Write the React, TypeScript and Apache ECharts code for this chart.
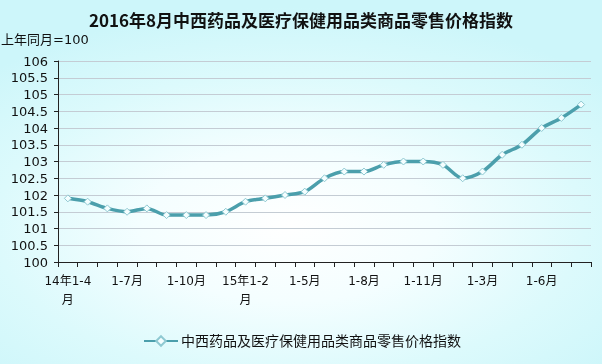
import React, { useEffect, useRef } from "react";
import * as echarts from "echarts";

const titleText = "2016年8月中西药品及医疗保健用品类商品零售价格指数";
const unitText = "上年同月=100";
const seriesName = "中西药品及医疗保健用品类商品零售价格指数";

const categories = [
  "14年1-4月", "1-5月", "1-6月", "1-7月", "1-8月", "1-9月", "1-10月", "1-11月", "1-12月",
  "15年1-2月", "1-3月", "1-4月", "1-5月", "1-6月", "1-7月", "1-8月", "1-9月", "1-10月", "1-11月", "1-12月",
  "16年1-2月", "1-3月", "1-4月", "1-5月", "1-6月", "1-7月", "1-8月",
];

const values = [
  101.9, 101.8, 101.6, 101.5, 101.6, 101.4, 101.4, 101.4, 101.5,
  101.8, 101.9, 102.0, 102.1, 102.5, 102.7, 102.7, 102.9, 103.0, 103.0, 102.9,
  102.5, 102.7, 103.2, 103.5, 104.0, 104.3, 104.7,
];

const yMin = 100;
const yMax = 106;
const yStep = 0.5;

export default function App() {
  const ref = useRef<HTMLDivElement>(null);
  useEffect(() => {
    if (!ref.current) return;
    const chart = echarts.init(ref.current, null, { renderer: "svg" });
    const font = "DejaVu Sans, Noto Sans CJK SC, sans-serif";
    chart.setOption({
      animation: false,
      backgroundColor: "transparent",
      title: {
        text: titleText,
        left: "center",
        top: 6,
        textStyle: {
          fontSize: 17,
          fontWeight: "bold",
          color: "#111",
          fontFamily: "Noto Sans CJK SC, sans-serif",
        },
      },
      graphic: [
        {
          type: "text",
          left: 1,
          top: 33,
          style: {
            text: unitText,
            fontSize: 13,
            fill: "#111",
            fontFamily: font,
          },
        },
      ],
      legend: {
        bottom: 11,
        left: 138,
        itemWidth: 34,
        itemHeight: 12,
        itemGap: 2,
        textStyle: { fontSize: 14, color: "#111", fontFamily: font, padding: [0, 0, 0, -2] },
        data: [{ name: seriesName }],
      },
      grid: { left: 58, right: 11, top: 61, bottom: 102, containLabel: false },
      xAxis: {
        type: "category",
        data: categories,
        boundaryGap: true,
        axisLine: { lineStyle: { color: "#222", width: 1 } },
        axisTick: { show: true, interval: 0, length: 5, lineStyle: { color: "#222" } },
        axisLabel: {
          interval: 2,
          fontSize: 12,
          color: "#111",
          fontFamily: font,
          margin: 9,
          lineHeight: 19,
          formatter: (v: string) => (v.indexOf("年") >= 0 ? v.replace(/月$/, "\n月") : v),
        },
        splitLine: { show: false },
      },
      yAxis: {
        type: "value",
        min: yMin,
        max: yMax,
        interval: yStep,
        axisLine: { show: true, lineStyle: { color: "#222", width: 1 } },
        axisTick: { show: true, length: 4, lineStyle: { color: "#222" } },
        axisLabel: { fontSize: 13, color: "#111", fontFamily: font, margin: 10 },
        splitLine: { show: true, lineStyle: { color: "#c4ccd4", width: 1 } },
      },
      series: [
        {
          name: seriesName,
          type: "line",
          data: values,
          smooth: 0.3,
          symbol: "diamond",
          symbolSize: 7,
          showSymbol: true,
          lineStyle: { color: "#4b9fac", width: 3.5 },
          itemStyle: { color: "#f4feff", borderColor: "#8fc9d2", borderWidth: 1 },
          emphasis: { disabled: true },
        },
      ],
    });
    return () => chart.dispose();
  }, []);
  return (
    <div
      ref={ref}
      style={{
        position: "fixed",
        left: 0,
        top: 0,
        width: 602,
        height: 364,
        background:
          "radial-gradient(ellipse 70% 60% at 48% 62%, #ffffff 0%, #f4feff 35%, #dcfafc 70%, #cdf6fa 100%)",
      }}
    />
  );
}
